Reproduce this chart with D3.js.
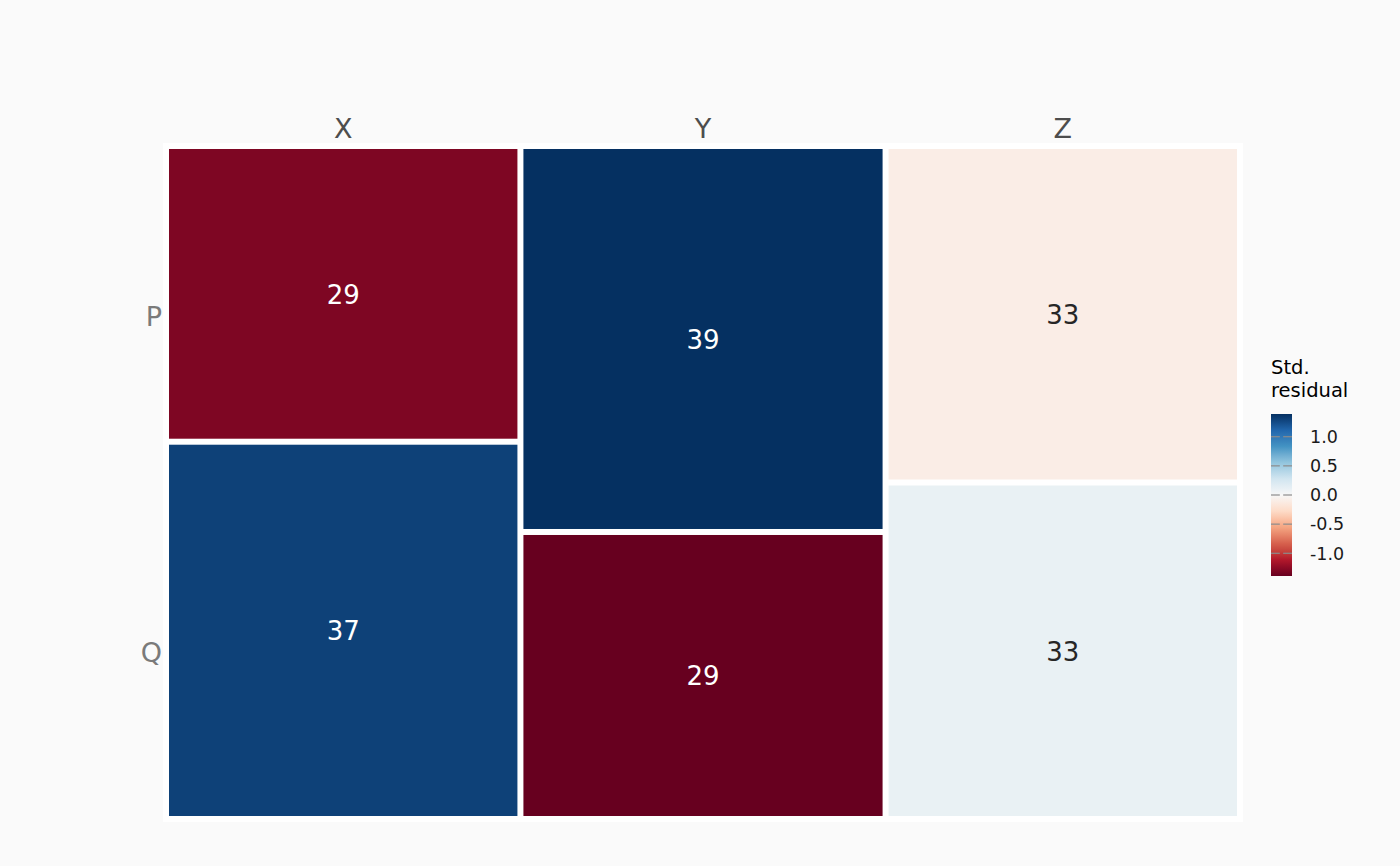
<!DOCTYPE html>
<html>
<head>
<meta charset="utf-8">
<script src="https://cdn.jsdelivr.net/npm/d3@7"></script>
<style>
  body { margin: 0; background: #fafafa; }
  svg { display: block; font-family: "DejaVu Sans", sans-serif; }
</style>
</head>
<body>
<svg id="chart"></svg>
<script>
// mosaic data: columns X, Y, Z split into rows P, Q
const columns = ["X", "Y", "Z"];
const rows = ["P", "Q"];
const countsP = [29, 39, 33];
const countsQ = [37, 29, 33];
// adjusted standardized residuals
const residP = [-1.30, 1.39, -0.10];
const residQ = [1.30, -1.39, 0.10];
const legendTicks = [-1.0, -0.5, 0.0, 0.5, 1.0];

const width = 1400;
const height = 866;
const svg = d3.select("#chart").attr("width", width).attr("height", height);

// build the cells
const counts = [countsP, countsQ];
const resid = [residP, residQ];
const colTotals = columns.map((c, i) => countsP[i] + countsQ[i]);
const grand = d3.sum(colTotals);
const rowTotals = rows.map((r, j) => d3.sum(counts[j]));

const x = d3.scaleLinear().domain([0, grand]).range([166, 1240]);
const y = d3.scaleLinear().domain([0, 1]).range([146, 819]);

const cells = [];
let cx = 0;
columns.forEach((c, i) => {
    let cy = 0;
    rows.forEach((r, j) => {
        const p = counts[j][i] / colTotals[i];
        cells.push({col: c, row: r, n: counts[j][i], res: resid[j][i],
            x0: cx, x1: cx + colTotals[i], y0: cy, y1: cy + p});
        cy += p;
    });
    cx += colTotals[i];
});

// RdBu palette, red = negative
const rdbu = ["#67001f", "#b2182b", "#d6604d", "#f4a582", "#fddbc7", "#f7f7f7",
              "#d1e5f0", "#92c5de", "#4393c3", "#2166ac", "#053061"];
const lim = d3.max(cells, d => Math.abs(d.res));
const color = d3.scaleLinear()
    .domain(d3.range(rdbu.length).map(k => -lim + 2 * lim * k / (rdbu.length - 1)))
    .range(rdbu)
    .interpolate(d3.interpolateLab);

// panel background
svg.append("rect")
    .attr("x", x(0) - 3).attr("y", y(0) - 3)
    .attr("width", x(grand) - x(0) + 6).attr("height", y(1) - y(0) + 6)
    .attr("fill", "#ffffff");

const gap = 3;
svg.append("g").selectAll("rect")
    .data(cells)
    .enter()
    .append("rect")
    .attr("x", d => x(d.x0) + gap)
    .attr("y", d => y(d.y0) + gap)
    .attr("width", d => x(d.x1) - x(d.x0) - 2 * gap)
    .attr("height", d => y(d.y1) - y(d.y0) - 2 * gap)
    .attr("fill", d => color(d.res));

svg.append("g").selectAll("text")
    .data(cells)
    .enter()
    .append("text")
    .attr("x", d => x((d.x0 + d.x1) / 2))
    .attr("y", d => y((d.y0 + d.y1) / 2))
    .attr("dy", "0.38em")
    .attr("text-anchor", "middle")
    .attr("font-size", 26)
    .attr("fill", d => Math.abs(d.res) > 0.5 ? "#ffffff" : "#262626")
    .text(d => d.n);

// column labels on top
let acc = 0;
const colMid = colTotals.map(t => { const m = acc + t / 2; acc += t; return m; });
svg.append("g").selectAll("text")
    .data(columns)
    .enter()
    .append("text")
    .attr("x", (d, i) => x(colMid[i]))
    .attr("y", 138)
    .attr("text-anchor", "middle")
    .attr("font-size", 27)
    .attr("fill", "#4d4d4d")
    .text(d => d);

// row labels at the marginal row proportions
let racc = 0;
const rowMid = rowTotals.map(t => { const m = racc + t / 2; racc += t; return m / grand; });
svg.append("g").selectAll("text")
    .data(rows)
    .enter()
    .append("text")
    .attr("x", 162)
    .attr("y", (d, j) => y(rowMid[j]))
    .attr("dy", "0.36em")
    .attr("text-anchor", "end")
    .attr("font-size", 27)
    .attr("fill", "#7a7a7a")
    .text(d => d);

// legend colourbar
const lx = 1271, lw = 21;
const ly = d3.scaleLinear().domain([-lim, lim]).range([576, 414]);
const defs = svg.append("defs");
const grad = defs.append("linearGradient")
    .attr("id", "resgrad")
    .attr("x1", 0).attr("y1", 1).attr("x2", 0).attr("y2", 0);
grad.selectAll("stop")
    .data(d3.range(0, 1.0001, 0.05))
    .enter()
    .append("stop")
    .attr("offset", d => d)
    .attr("stop-color", d => color(-lim + 2 * lim * d));

svg.append("rect")
    .attr("x", lx).attr("y", ly(lim))
    .attr("width", lw).attr("height", ly(-lim) - ly(lim))
    .attr("fill", "url(#resgrad)");

const tk = svg.append("g").selectAll("g")
    .data(legendTicks)
    .enter()
    .append("g");
tk.append("line")
    .attr("x1", lx).attr("x2", lx + lw * 0.42)
    .attr("y1", d => ly(d)).attr("y2", d => ly(d))
    .attr("stroke", "#8c8c8c").attr("stroke-width", 1.2);
tk.append("line")
    .attr("x1", lx + lw * 0.58).attr("x2", lx + lw)
    .attr("y1", d => ly(d)).attr("y2", d => ly(d))
    .attr("stroke", "#8c8c8c").attr("stroke-width", 1.2);
tk.append("text")
    .attr("x", 1310)
    .attr("y", d => ly(d))
    .attr("dy", "0.36em")
    .attr("font-size", 17.5)
    .attr("fill", "#1a1a1a")
    .text(d => d.toFixed(1));

// two-line legend title
svg.append("text")
    .attr("x", 1271).attr("y", 374)
    .attr("font-size", 19.5)
    .attr("fill", "#000000")
    .text("Std.");
svg.append("text")
    .attr("x", 1271).attr("y", 397)
    .attr("font-size", 19.5)
    .attr("fill", "#000000")
    .text("residual");
</script>
</body>
</html>
